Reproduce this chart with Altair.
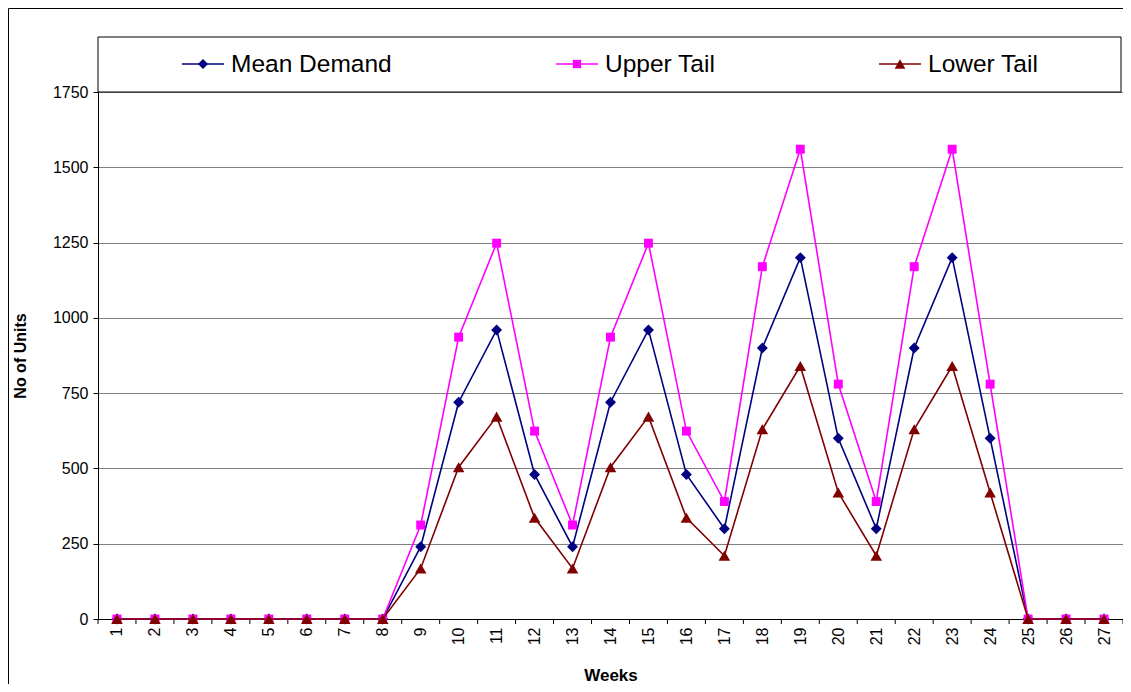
import altair as alt
import pandas as pd

weeks = list(range(1, 28))
mean_demand = [0, 0, 0, 0, 0, 0, 0, 0, 240, 720, 960, 480, 240, 720, 960, 480,
               300, 900, 1200, 600, 300, 900, 1200, 600, 0, 0, 0]
upper_tail = [0, 0, 0, 0, 0, 0, 0, 0, 312, 936, 1248, 624, 312, 936, 1248, 624,
              390, 1170, 1560, 780, 390, 1170, 1560, 780, 0, 0, 0]
lower_tail = [0, 0, 0, 0, 0, 0, 0, 0, 168, 504, 672, 336, 168, 504, 672, 336,
              210, 630, 840, 420, 210, 630, 840, 420, 0, 0, 0]
series_names = ["Mean Demand", "Upper Tail", "Lower Tail"]
series_colors = ["#000080", "#FF00FF", "#800000"]
series_shapes = ["diamond", "square", "triangle-up"]
series_sizes = [120, 80, 135]
y_ticks = [0, 250, 500, 750, 1000, 1250, 1500, 1750]

W, H = 1025, 527
FONT = "Liberation Sans"
LEG_X = [203, 577, 900]   # legend item marker centres, page px (layout)
LEG_X = [v - 98 for v in LEG_X]

x_scale = alt.Scale(domain=[0.5, 27.5], nice=False, zero=False)
y_scale = alt.Scale(domain=[0, 1750], nice=False)

x_axis = alt.Axis(values=weeks, labelAngle=270, labelAlign="right", labelBaseline="middle",
                  labelPadding=8, ticks=False, grid=False, domainColor="black",
                  labelFontSize=16, labelColor="black", labelFont=FONT,
                  title="Weeks", titleFont=FONT, titleFontSize=17, titleFontWeight="bold",
                  titleColor="black", titleY=56, titleBaseline="middle", labelOverlap=False)
y_axis = alt.Axis(values=y_ticks, format="d", tickSize=5, tickColor="black", domainColor="black",
                  gridColor="#808080", gridWidth=1, labelFontSize=16, labelColor="black",
                  labelFont=FONT, labelPadding=5,
                  title="No of Units", titleFont=FONT, titleFontSize=16, titleFontWeight="bold",
                  titleColor="black", titleAngle=270, titleX=-78, titleY=H / 2,
                  titleAlign="center", titleBaseline="middle")

rows = []
for name, vals in zip(series_names, [mean_demand, upper_tail, lower_tail]):
    for w, v in zip(weeks, vals):
        rows.append({"week": w, "value": v, "series": name})
df = pd.DataFrame(rows)

X = alt.X("week:Q", scale=x_scale, axis=x_axis)
Y = alt.Y("value:Q", scale=y_scale, axis=y_axis)

layers = []

# decorative outer frame and legend box
one = pd.DataFrame({"k": [0]})
layers.append(alt.Chart(one).mark_rule(color="black", strokeWidth=1, clip=False).encode(
    x=alt.value(-89.5), x2=alt.value(W + 10), y=alt.value(-83.5)))
layers.append(alt.Chart(one).mark_rule(color="black", strokeWidth=1, clip=False).encode(
    x=alt.value(-89.5), y=alt.value(-83.5), y2=alt.value(H + 80)))
layers.append(alt.Chart(one).mark_rect(fill="white", stroke="black", strokeWidth=1, clip=False).encode(
    x=alt.value(0), x2=alt.value(1023), y=alt.value(-55), y2=alt.value(0)))

# category boundary tick marks on x axis
bounds = pd.DataFrame({"week": [w - 0.5 for w in weeks] + [weeks[-1] + 0.5]})
layers.append(alt.Chart(bounds).mark_rule(color="black", strokeWidth=1, clip=False).encode(
    x=X, y=alt.value(H), y2=alt.value(H + 5)))

for name, col, shp, sz, lx in zip(series_names, series_colors, series_shapes, series_sizes, LEG_X):
    d = df[df.series == name]
    layers.append(alt.Chart(d).mark_line(color=col, strokeWidth=1.6).encode(x=X, y=Y))
    layers.append(alt.Chart(d).mark_point(color=col, fill=col, filled=True, opacity=1,
                                          shape=shp, size=sz, clip=False).encode(x=X, y=Y))
    ld = pd.DataFrame({"series": [name]})
    layers.append(alt.Chart(ld).mark_rule(color=col, strokeWidth=1.6, clip=False).encode(
        x=alt.value(lx - 21), x2=alt.value(lx + 21), y=alt.value(-28)))
    layers.append(alt.Chart(ld).mark_point(color=col, fill=col, filled=True, opacity=1,
                                           shape=shp, size=sz * 0.85, clip=False).encode(
        x=alt.value(lx), y=alt.value(-28)))
    layers.append(alt.Chart(ld).mark_text(align="left", baseline="middle", fontSize=24.5,
                                          font=FONT, color="black", clip=False).encode(
        x=alt.value(lx + 28), y=alt.value(-27), text="series:N"))

chart = alt.layer(*layers).properties(
    width=W, height=H,
    autosize=alt.AutoSizeParams(type="none"),
    padding={"left": 90, "top": 84, "right": 0, "bottom": 65},
    background="white",
).configure_view(stroke="black", strokeWidth=1)

chart.save("out.html", embed_options={"renderer": "svg", "actions": False})
